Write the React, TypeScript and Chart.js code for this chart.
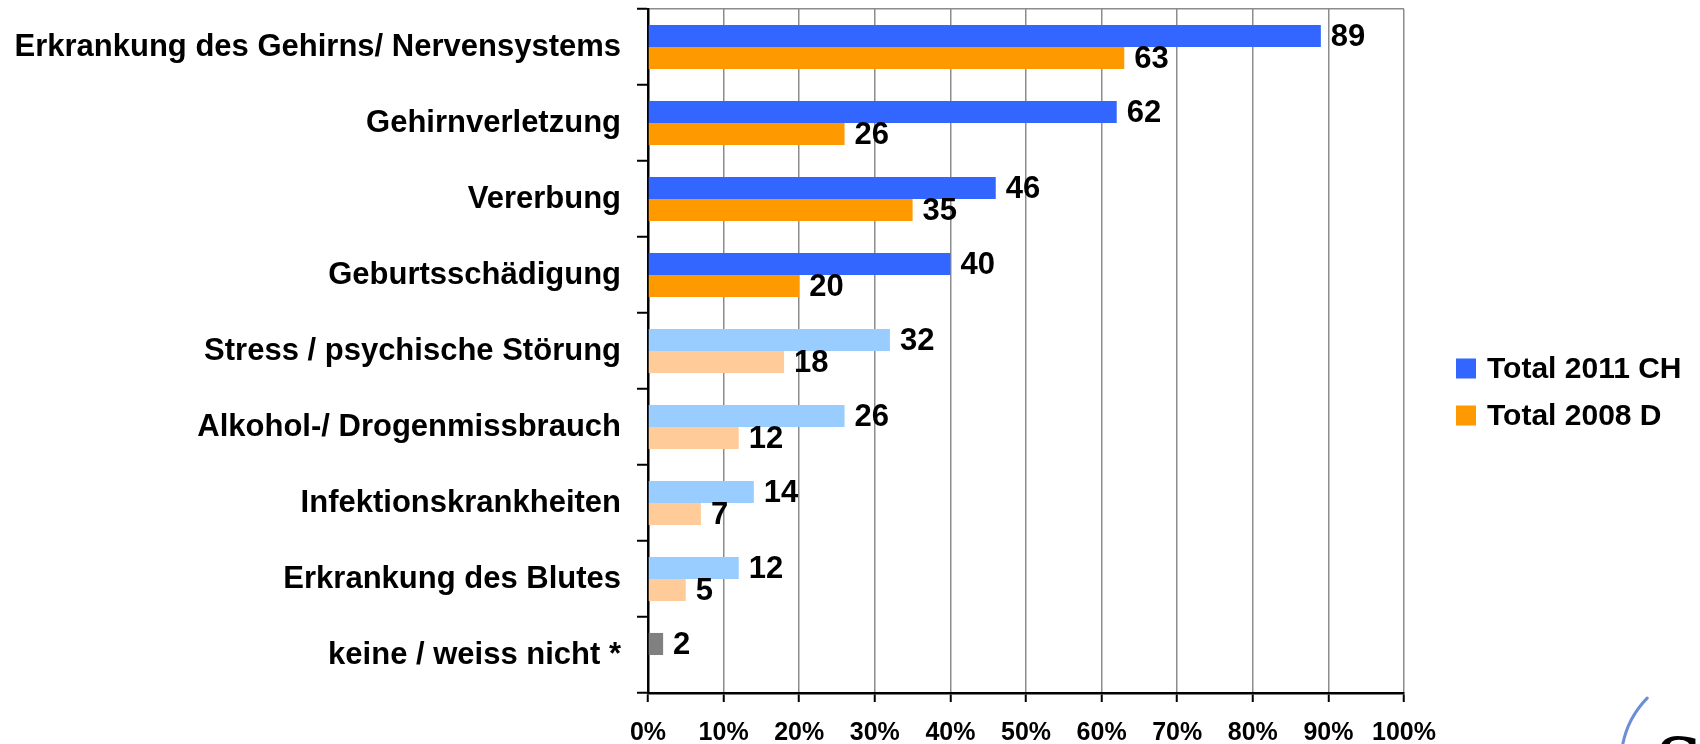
import React, { useEffect, useRef } from "react";
import { Chart, registerables } from "chart.js";

Chart.register(...registerables);

const categories = [
  "Erkrankung des Gehirns/ Nervensystems",
  "Gehirnverletzung",
  "Vererbung",
  "Geburtsschädigung",
  "Stress / psychische Störung",
  "Alkohol-/ Drogenmissbrauch",
  "Infektionskrankheiten",
  "Erkrankung des Blutes",
  "keine / weiss nicht *",
];

const seriesNames = ["Total 2011 CH", "Total 2008 D"];
const ch2011 = [89, 62, 46, 40, 32, 26, 14, 12, 2];
const d2008 = [63, 26, 35, 20, 18, 12, 7, 5, null];

const ch2011Colors = [
  "#3366FF", "#3366FF", "#3366FF", "#3366FF",
  "#99CCFF", "#99CCFF", "#99CCFF", "#99CCFF",
  "#808080",
];
const d2008Colors = [
  "#FF9900", "#FF9900", "#FF9900", "#FF9900",
  "#FFCC99", "#FFCC99", "#FFCC99", "#FFCC99",
  "#FFCC99",
];
const legendColors = ["#3366FF", "#FF9900"];

const xTicks = [0, 10, 20, 30, 40, 50, 60, 70, 80, 90, 100];

const FONT = "'Liberation Sans', Arial, Helvetica, sans-serif";

const valueLabels = {
  id: "valueLabels",
  afterDatasetsDraw(chart: any) {
    const ctx = chart.ctx;
    ctx.save();
    ctx.font = `bold 31px ${FONT}`;
    ctx.fillStyle = "#000";
    ctx.textAlign = "left";
    ctx.textBaseline = "middle";
    chart.data.datasets.forEach((ds: any, di: number) => {
      const meta = chart.getDatasetMeta(di);
      meta.data.forEach((el: any, i: number) => {
        const v = ds.data[i];
        if (v === null || v === undefined) return;
        ctx.fillText(String(v), el.x + 10, el.y + 1);
      });
    });
    ctx.restore();
  },
};

const customLegend = {
  id: "customLegend",
  afterDraw(chart: any) {
    const ctx = chart.ctx;
    const area = chart.chartArea;
    const x0 = area.right + 52;
    const cy = (area.top + area.bottom) / 2 + 41;
    const rows = [cy - 23.5, cy + 23.5];
    ctx.save();
    ctx.font = `bold 30px ${FONT}`;
    ctx.textAlign = "left";
    ctx.textBaseline = "middle";
    seriesNames.forEach((name, i) => {
      ctx.fillStyle = legendColors[i];
      ctx.fillRect(x0, rows[i] - 10, 20, 20);
      ctx.fillStyle = "#000";
      ctx.fillText(name, x0 + 31, rows[i] + 1);
    });
    ctx.restore();
  },
};

const logo = {
  id: "logo",
  afterDraw(chart: any) {
    const ctx = chart.ctx;
    ctx.save();
    ctx.strokeStyle = "#6A8FD8";
    ctx.lineWidth = 3;
    ctx.lineCap = "round";
    ctx.beginPath();
    ctx.arc(1712, 762, 91, 3.33, 3.92);
    ctx.stroke();
    ctx.fillStyle = "#000";
    ctx.font = "bold 64px 'DejaVu Serif', serif";
    ctx.textBaseline = "top";
    ctx.textAlign = "left";
    ctx.fillText("S", 1656, 734);
    ctx.restore();
  },
};

export default function App() {
  const ref = useRef<HTMLCanvasElement | null>(null);

  useEffect(() => {
    if (!ref.current) return;
    Chart.defaults.font.family = FONT;
    const chart = new Chart(ref.current, {
      type: "bar",
      data: {
        labels: categories,
        datasets: [
          {
            label: seriesNames[0],
            data: ch2011,
            backgroundColor: ch2011Colors,
            borderWidth: 0,
            categoryPercentage: 0.58,
            barPercentage: 1.0,
          },
          {
            label: seriesNames[1],
            data: d2008,
            backgroundColor: d2008Colors,
            borderWidth: 0,
            categoryPercentage: 0.58,
            barPercentage: 1.0,
          },
        ],
      },
      options: {
        indexAxis: "y",
        responsive: false,
        animation: false,
        devicePixelRatio: 1,
        layout: { padding: { left: 0, right: 296, top: 9, bottom: 0 } },
        plugins: {
          legend: { display: false },
          tooltip: { enabled: false },
        },
        scales: {
          x: {
            type: "linear",
            min: 0,
            max: 100,
            afterBuildTicks: (scale: any) => {
              scale.ticks = xTicks.map((v) => ({ value: v }));
            },
            afterFit: (scale: any) => {
              scale.height = 51;
            },
            ticks: {
              callback: (v: any) => `${v}%`,
              font: { size: 25, weight: "bold", lineHeight: 0.9 },
              color: "#000",
              padding: 20,
              maxRotation: 0,
              autoSkip: false,
            },
            grid: {
              color: "#8C8C8C",
              lineWidth: 1.5,
              tickColor: "#000",
              tickWidth: 2,
              tickLength: 9,
            },
            border: { color: "#000", width: 2.5 },
          },
          y: {
            type: "category",
            afterFit: (scale: any) => {
              scale.width = 648;
              scale.paddingTop = 0;
              scale.paddingBottom = 0;
            },
            ticks: {
              font: { size: 31, weight: "bold" },
              color: "#000",
              padding: 16,
              autoSkip: false,
            },
            grid: {
              offset: true,
              color: (c: any) => (c.index === 0 ? "#8C8C8C" : "rgba(0,0,0,0)"),
              lineWidth: 1.5,
              tickColor: "#000",
              tickWidth: 2,
              tickLength: 11,
            },
            border: { color: "#000", width: 2.5 },
          },
        },
      } as any,
      plugins: [valueLabels, customLegend, logo],
    });
    return () => chart.destroy();
  }, []);

  return (
    <div style={{ position: "absolute", left: 0, top: 0, width: 1700, height: 744, background: "#fff" }}>
      <canvas ref={ref} width={1700} height={744} style={{ display: "block" }} />
    </div>
  );
}
